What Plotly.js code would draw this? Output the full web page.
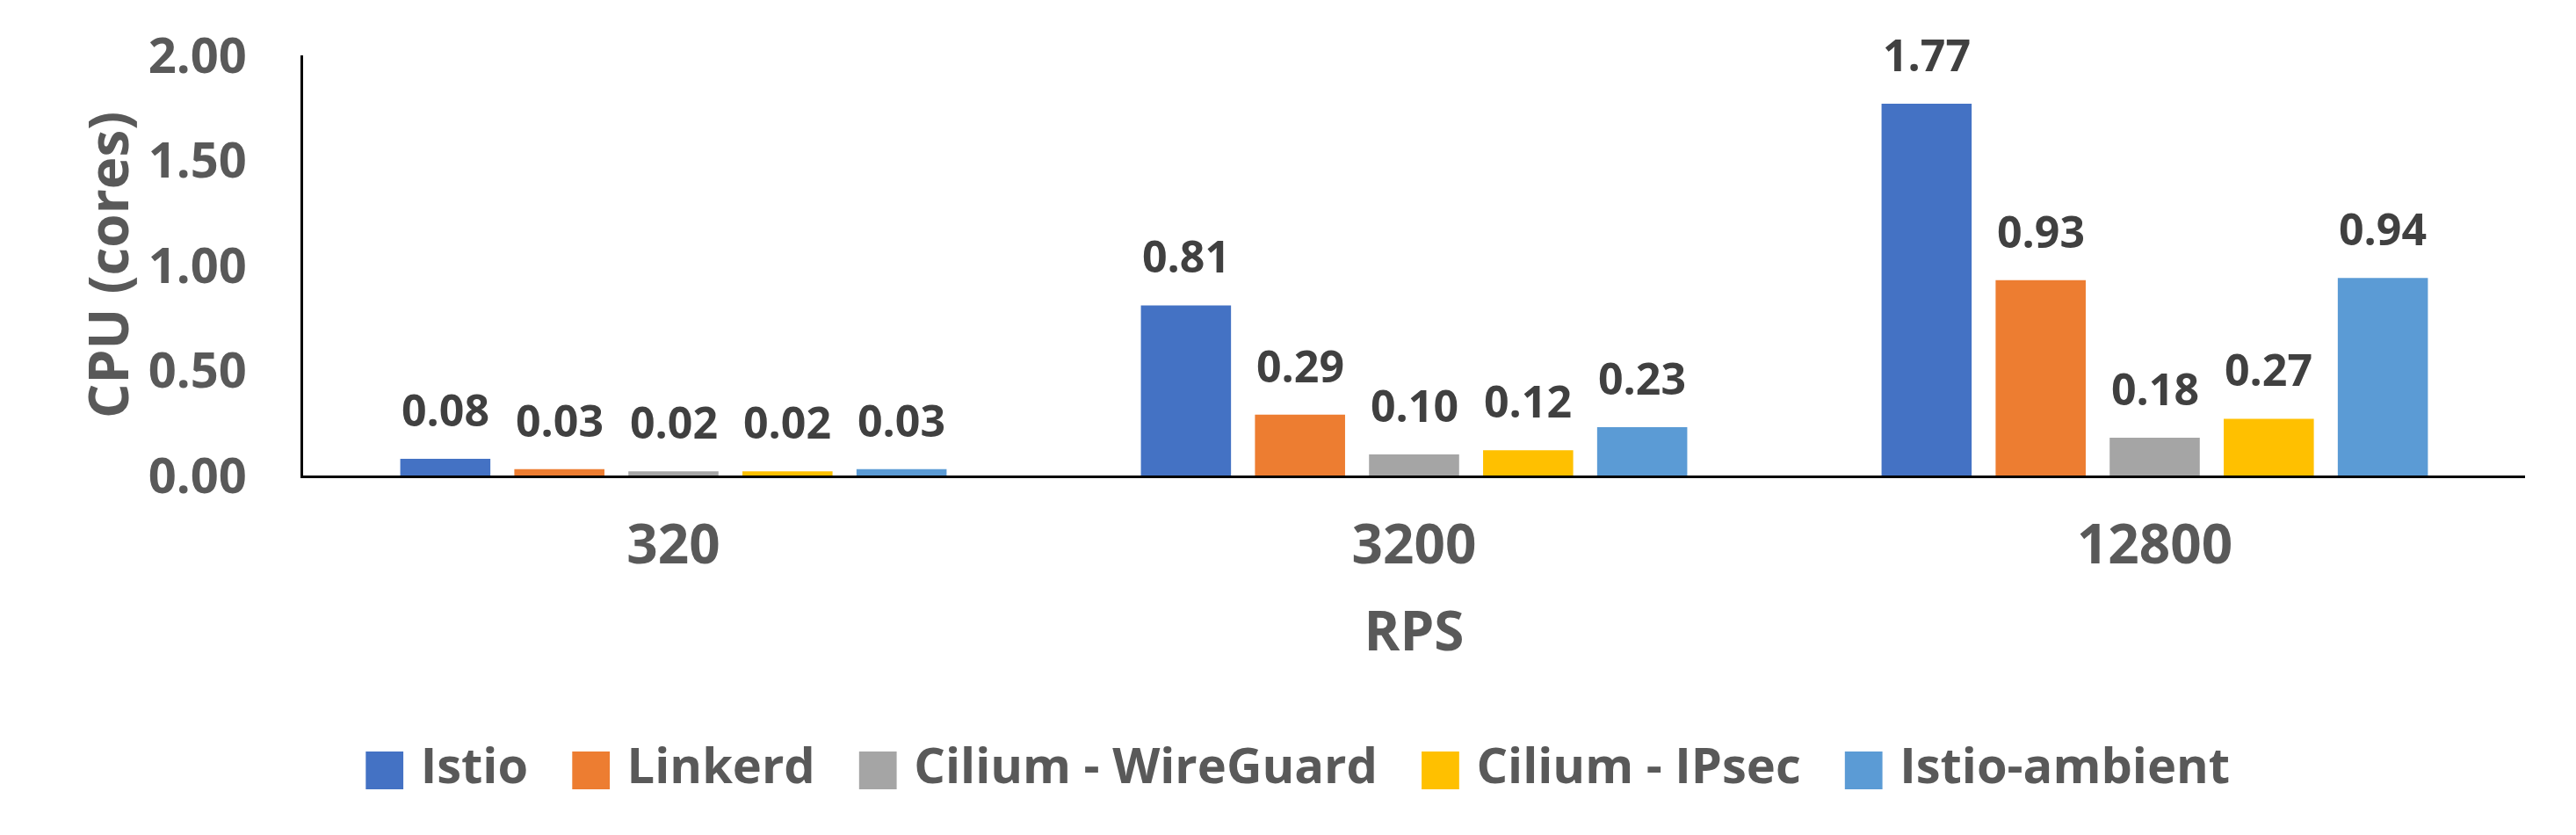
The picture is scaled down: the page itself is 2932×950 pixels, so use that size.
<!DOCTYPE html>
<html>
<head>
<meta charset="utf-8">
<script src="https://cdn.plot.ly/plotly-3.0.1.min.js"></script>
<style>
  html, body { margin: 0; padding: 0; background: #fff; }
  #chart { width: 2932px; height: 950px; }
</style>
</head>
<body>
<div id="chart"></div>
<script>
// RPS levels on the x axis
const rps = ['320', '3200', '12800'];

// CPU usage (cores) per mesh
const istio = [0.08, 0.81, 1.77];
const linkerd = [0.03, 0.29, 0.93];
const ciliumWireguard = [0.02, 0.10, 0.18];
const ciliumIpsec = [0.02, 0.12, 0.27];
const istioAmbient = [0.03, 0.23, 0.94];

const seriesNames = ['Istio', 'Linkerd', 'Cilium - WireGuard', 'Cilium - IPsec', 'Istio-ambient'];
const seriesValues = [istio, linkerd, ciliumWireguard, ciliumIpsec, istioAmbient];
const seriesColors = ['#4472C4', '#ED7D31', '#A5A5A5', '#FFC000', '#5B9BD5'];

const W = 2932, H = 950;
const margin = {l: 345, r: 58, t: 63, b: 409};
const plotW = W - margin.l - margin.r;
const bargap = 0.23;
const slot = plotW / rps.length * (1 - bargap) / seriesNames.length;

const data = [];
seriesNames.forEach((name, i) => {
    data.push({
        type: 'bar',
        name: name,
        x: rps,
        y: seriesValues[i],
        marker: {color: seriesColors[i]},
        showlegend: false
    });
});

// legend entries on a hidden helper axis: big colored square glyph + name
seriesNames.forEach((name, i) => {
    data.push({
        type: 'scatter',
        mode: 'markers',
        x: [0],
        y: [0],
        xaxis: 'x2',
        yaxis: 'y2',
        marker: {color: 'rgba(0,0,0,0)', size: 1, line: {width: 0}},
        name: '<span style="color:' + seriesColors[i] + ';font-family:DejaVu Sans">\u25A0</span> ' + name,
        hoverinfo: 'skip'
    });
});

// value labels above the bars (x is the category index)
const annotations = [];
seriesValues.forEach((vals, i) => {
    vals.forEach((v, j) => {
        annotations.push({
            x: j,
            y: v,
            xref: 'x',
            yref: 'y',
            text: v.toFixed(2),
            showarrow: false,
            yanchor: 'bottom',
            xanchor: 'center',
            xshift: (i - 2) * slot,
            yshift: 20,
            font: {family: 'Open Sans', size: 50, color: '#404040', weight: 'bold'}
        });
    });
});

// y axis title, placed by hand
annotations.push({
    text: 'CPU (cores)',
    xref: 'paper',
    yref: 'paper',
    x: (122 - margin.l) / plotW,
    y: 0.5,
    xanchor: 'center',
    yanchor: 'middle',
    textangle: -90,
    showarrow: false,
    font: {family: 'Open Sans', size: 62, color: '#595959', weight: 'bold'}
});

const layout = {
    width: W,
    height: H,
    margin: margin,
    paper_bgcolor: '#fff',
    plot_bgcolor: '#fff',
    barmode: 'group',
    bargap: bargap,
    bargroupgap: 0.21,
    font: {family: 'Open Sans', color: '#595959', weight: 'bold'},
    xaxis: {
        type: 'category',
        range: [-0.5, rps.length - 0.5],
        showline: true,
        linecolor: '#000',
        linewidth: 3,
        ticks: '',
        showgrid: false,
        zeroline: false,
        ticklabelstandoff: 23,
        tickfont: {size: 62, color: '#595959', weight: 'bold'},
        title: {text: 'RPS', standoff: 39, font: {size: 62, color: '#595959', weight: 'bold'}}
    },
    yaxis: {
        range: [0, 2],
        dtick: 0.5,
        tickformat: '.2f',
        showline: true,
        linecolor: '#000',
        linewidth: 3,
        ticks: '',
        showgrid: false,
        zeroline: false,
        ticklabelstandoff: 50,
        tickfont: {size: 56, color: '#595959', weight: 'bold'}
    },
    xaxis2: {overlaying: 'x', visible: false, range: [10, 11]},
    yaxis2: {overlaying: 'y', visible: false, range: [10, 11]},
    legend: {
        orientation: 'h',
        xref: 'container',
        yref: 'container',
        x: 0.497,
        y: 1 - 869 / H,
        xanchor: 'center',
        yanchor: 'middle',
        font: {size: 56, color: '#595959', weight: 'bold'},
        itemwidth: 30,
        bgcolor: 'rgba(0,0,0,0)'
    },
    annotations: annotations
};

Plotly.newPlot('chart', data, layout, {displayModeBar: false, staticPlot: true});
</script>
</body>
</html>
